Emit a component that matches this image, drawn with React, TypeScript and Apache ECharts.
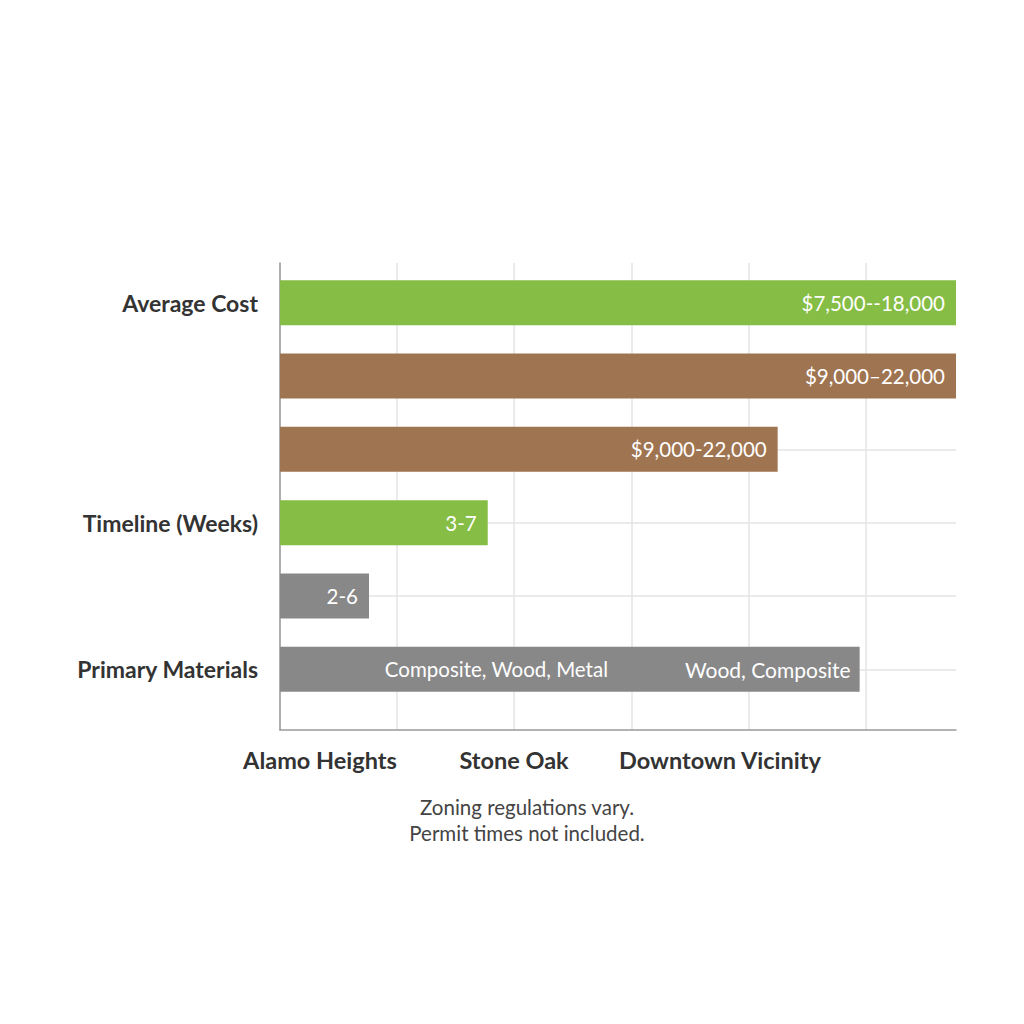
import React, { useEffect, useRef } from "react";
import * as echarts from "echarts";

const rowKeys = ["cost-1", "cost-2", "cost-3", "time-1", "time-2", "materials"];
const rowLabels = ["Average Cost", "", "", "Timeline (Weeks)", "", "Primary Materials"];
const mainValues = [577.3, 577.3, 425, 177.4, 76, 289.5];
const mainLabels = ["$7,500--18,000", "$9,000–22,000", "$9,000-22,000", "3-7", "2-6", "Composite, Wood, Metal"];
const extraValues: (number | string)[] = ["-", "-", "-", "-", "-", 205.5];
const extraLabels = ["", "", "", "", "", "Wood, Composite"];
const barColors = ["#85bd45", "#9f7450", "#9f7450", "#85bd45", "#888888", "#888888"];
const neighborhoods = ["Alamo Heights", "Stone Oak", "Downtown Vicinity"];
const notes = ["Zoning regulations vary.", "Permit times not included."];
const axisMax = 577.3;

const FONT = "Lato, 'Open Sans', sans-serif";

export default function App() {
  const ref = useRef<HTMLDivElement>(null);
  useEffect(() => {
    document.body.style.margin = "0";
    const chart = echarts.init(ref.current!, null, { renderer: "svg" });
    const gridColors = ["#e4e4e4", "#e4e4e4", "#e4e4e4", "#e4e4e4", "#e4e4e4", "#e4e4e4", "rgba(0,0,0,0)"];
    const option: any = {
      animation: false,
      backgroundColor: "#ffffff",
      grid: [
        { left: 280, right: 68, top: 266, height: 440 },
        { left: 280, right: 68, top: 263, bottom: 294 },
      ],
      xAxis: [
        { gridIndex: 0, type: "value", min: 0, max: axisMax, show: false },
        {
          gridIndex: 1,
          type: "value",
          min: 0,
          max: axisMax,
          interval: 100,
          axisLine: { show: true, onZero: false, lineStyle: { color: "#9a9a9a", width: 1.5 } },
          axisTick: { show: false },
          axisLabel: { show: false },
          splitLine: { show: true, lineStyle: { color: gridColors, width: 1.5 } },
        },
      ],
      yAxis: [
        {
          gridIndex: 0,
          type: "category",
          inverse: true,
          data: rowKeys,
          axisLine: { show: false },
          axisTick: { show: false },
          splitLine: { show: false },
          axisLabel: {
            margin: 22,
            fontFamily: FONT,
            fontWeight: "bold",
            fontSize: 23,
            color: "#333333",
            formatter: (_v: string, i: number) => rowLabels[i],
          },
        },
        {
          gridIndex: 1,
          type: "value",
          axisLine: { show: true, onZero: false, lineStyle: { color: "#9a9a9a", width: 1.5 } },
          axisTick: { show: false },
          axisLabel: { show: false },
          splitLine: { show: false },
        },
      ],
      series: [
        {
          type: "bar",
          xAxisIndex: 0,
          yAxisIndex: 0,
          stack: "total",
          barWidth: 45,
          z: 2,
          data: mainValues.map((v, i) => ({
            value: v,
            itemStyle: { color: barColors[i] },
            label: { formatter: mainLabels[i] },
          })),
          label: {
            show: true,
            position: "insideRight",
            distance: 11,
            color: "#ffffff",
            fontFamily: FONT,
            fontSize: 20.5,
          },
          markLine: {
            silent: true,
            symbol: "none",
            z: 1,
            label: { show: false },
            lineStyle: { color: "#e4e4e4", width: 1.5, type: "solid" },
            data: rowKeys.map((_k, i) => ({ yAxis: i })),
          },
        },
        {
          type: "bar",
          xAxisIndex: 0,
          yAxisIndex: 0,
          stack: "total",
          barWidth: 45,
          z: 2,
          data: extraValues.map((v, i) => ({
            value: v,
            itemStyle: { color: barColors[i] },
            label: { formatter: extraLabels[i] },
          })),
          label: {
            show: true,
            position: "insideRight",
            distance: 9,
            color: "#ffffff",
            fontFamily: FONT,
            fontSize: 21,
          },
        },
      ],
      graphic: [
        ...neighborhoods.map((t, i) => ({
          type: "text",
          x: [320, 514, 720][i],
          y: 760,
          style: {
            text: t,
            fontFamily: FONT,
            fontWeight: "bold",
            fontSize: 23.5,
            fill: "#333333",
            textAlign: "center",
            textVerticalAlign: "middle",
          },
        })),
        ...notes.map((t, i) => ({
          type: "text",
          x: 527,
          y: 807 + i * 26,
          style: {
            text: t,
            fontFamily: FONT,
            fontSize: 20.5,
            fill: "#444444",
            textAlign: "center",
            textVerticalAlign: "middle",
          },
        })),
      ],
    };
    chart.setOption(option);
    return () => chart.dispose();
  }, []);
  return <div ref={ref} style={{ width: 1024, height: 1024 }} />;
}
